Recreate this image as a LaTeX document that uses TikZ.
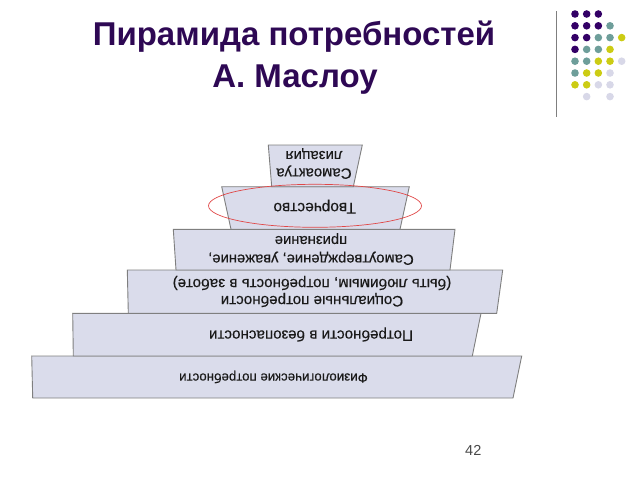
\documentclass[tikz,border=0pt]{standalone}
\usepackage{fontspec}
\usetikzlibrary{shapes.geometric}
\setmainfont{Liberation Sans}
\newfontfamily\tierfont[FakeBold=0.35]{Liberation Sans}
\definecolor{titlec}{HTML}{2E0854}
\definecolor{dotP}{HTML}{330066}
\definecolor{dotT}{HTML}{6E9E9A}
\definecolor{dotY}{HTML}{CCCC14}
\definecolor{dotL}{HTML}{D8D8E8}
\definecolor{tierfill}{HTML}{DADCEB}
\definecolor{tierline}{HTML}{7F7F7F}
\definecolor{ringc}{HTML}{E04848}
\definecolor{txtc}{HTML}{1A1A1A}
\begin{document}
\begin{tikzpicture}[x=1pt,y=-1pt,
  tier/.style={draw=tierline,fill=tierfill,line width=0.9pt,line join=miter},
  tiertext/.style={text=txtc,rotate=180,align=center,inner sep=0pt,font=\tierfont\fontsize{15.2}{17}\selectfont},
  dot/.style={circle,inner sep=0pt,minimum size=7.6pt},
  titletext/.style={text=titlec,anchor=base,inner sep=0pt,font=\bfseries\fontsize{33}{40}\selectfont}]
\useasboundingbox (0,0) rectangle (640,480);
% title
\node[titletext] (title1) at (294,45) {Пирамида потребностей};
\node[titletext] (title2) at (295,87.5) {А. Маслоу};
% vertical rule
\coordinate (rtop) at (556.7,11);
\coordinate (rbot) at (556.7,117);
\draw[draw=tierline,line width=1.2pt] (rtop) -- (rbot);
% dots: column/row/colour
\foreach \i/\r/\k in {0/0/P,1/0/P,2/0/P,
  0/1/P,1/1/P,2/1/P,3/1/T,
  0/2/P,1/2/P,2/2/T,3/2/T,4/2/Y,
  0/3/P,1/3/T,2/3/T,3/3/Y,
  0/4/T,1/4/T,2/4/Y,3/4/Y,4/4/L,
  0/5/T,1/5/Y,2/5/Y,3/5/L,
  0/6/Y,1/6/Y,2/6/L,3/6/L,
  1/7/L,3/7/L}{
  \node[dot,fill=dot\k] (d\r-\i) at ({575+11.67*\i},{14+11.8*\r}) {};
}
% tiers
\draw[tier] (31.7,356) -- (521.7,356) -- (513,398) -- (32.7,398) -- cycle;
\draw[tier] (72.7,313.3) -- (481,313.3) -- (472.3,356) -- (73.3,356) -- cycle;
\draw[tier] (127.3,270) -- (502.7,270) -- (496.7,313.3) -- (128.3,313.3) -- cycle;
\draw[tier] (173.3,229.3) -- (455,229.3) -- (450,270) -- (176,270) -- cycle;
\draw[tier] (221.7,186.7) -- (409.3,186.7) -- (400,229.3) -- (231,229.3) -- cycle;
\draw[tier] (268.3,145) -- (362.3,145) -- (353.3,186.7) -- (271.7,186.7) -- cycle;
% texts
\node[tiertext,font=\tierfont\fontsize{13.3}{15}\selectfont] (t1) at (273.5,377) {Физиологические потребности};
\node[tiertext] (t2) at (311,334.5) {Потребности в безопасности};
\node[tiertext] (t3) at (312,291.5) {Социальные потребности\\(быть любимым, потребность в заботе)};
\node[tiertext,font=\tierfont\fontsize{14.8}{18.5}\selectfont] (t4) at (311,249) {Самоутверждение, уважение,\\признание};
\node[tiertext,font=\tierfont\fontsize{15.6}{17}\selectfont] (t5) at (314.7,206.7) {Творчество};
\node[tiertext,font=\tierfont\fontsize{14.9}{17.4}\selectfont] (t6) at (314,163.5) {Самоактуа\\лизация};
% red ring
\node[draw=ringc,line width=0.7pt,ellipse,minimum width=213pt,minimum height=43pt,inner sep=0pt] (ring) at (315,205.8) {};
% page number
\node[text=txtc!80,font=\fontsize{14.5}{17}\selectfont,inner sep=0pt] (pnum) at (473.3,450) {42};
\end{tikzpicture}
\end{document}
